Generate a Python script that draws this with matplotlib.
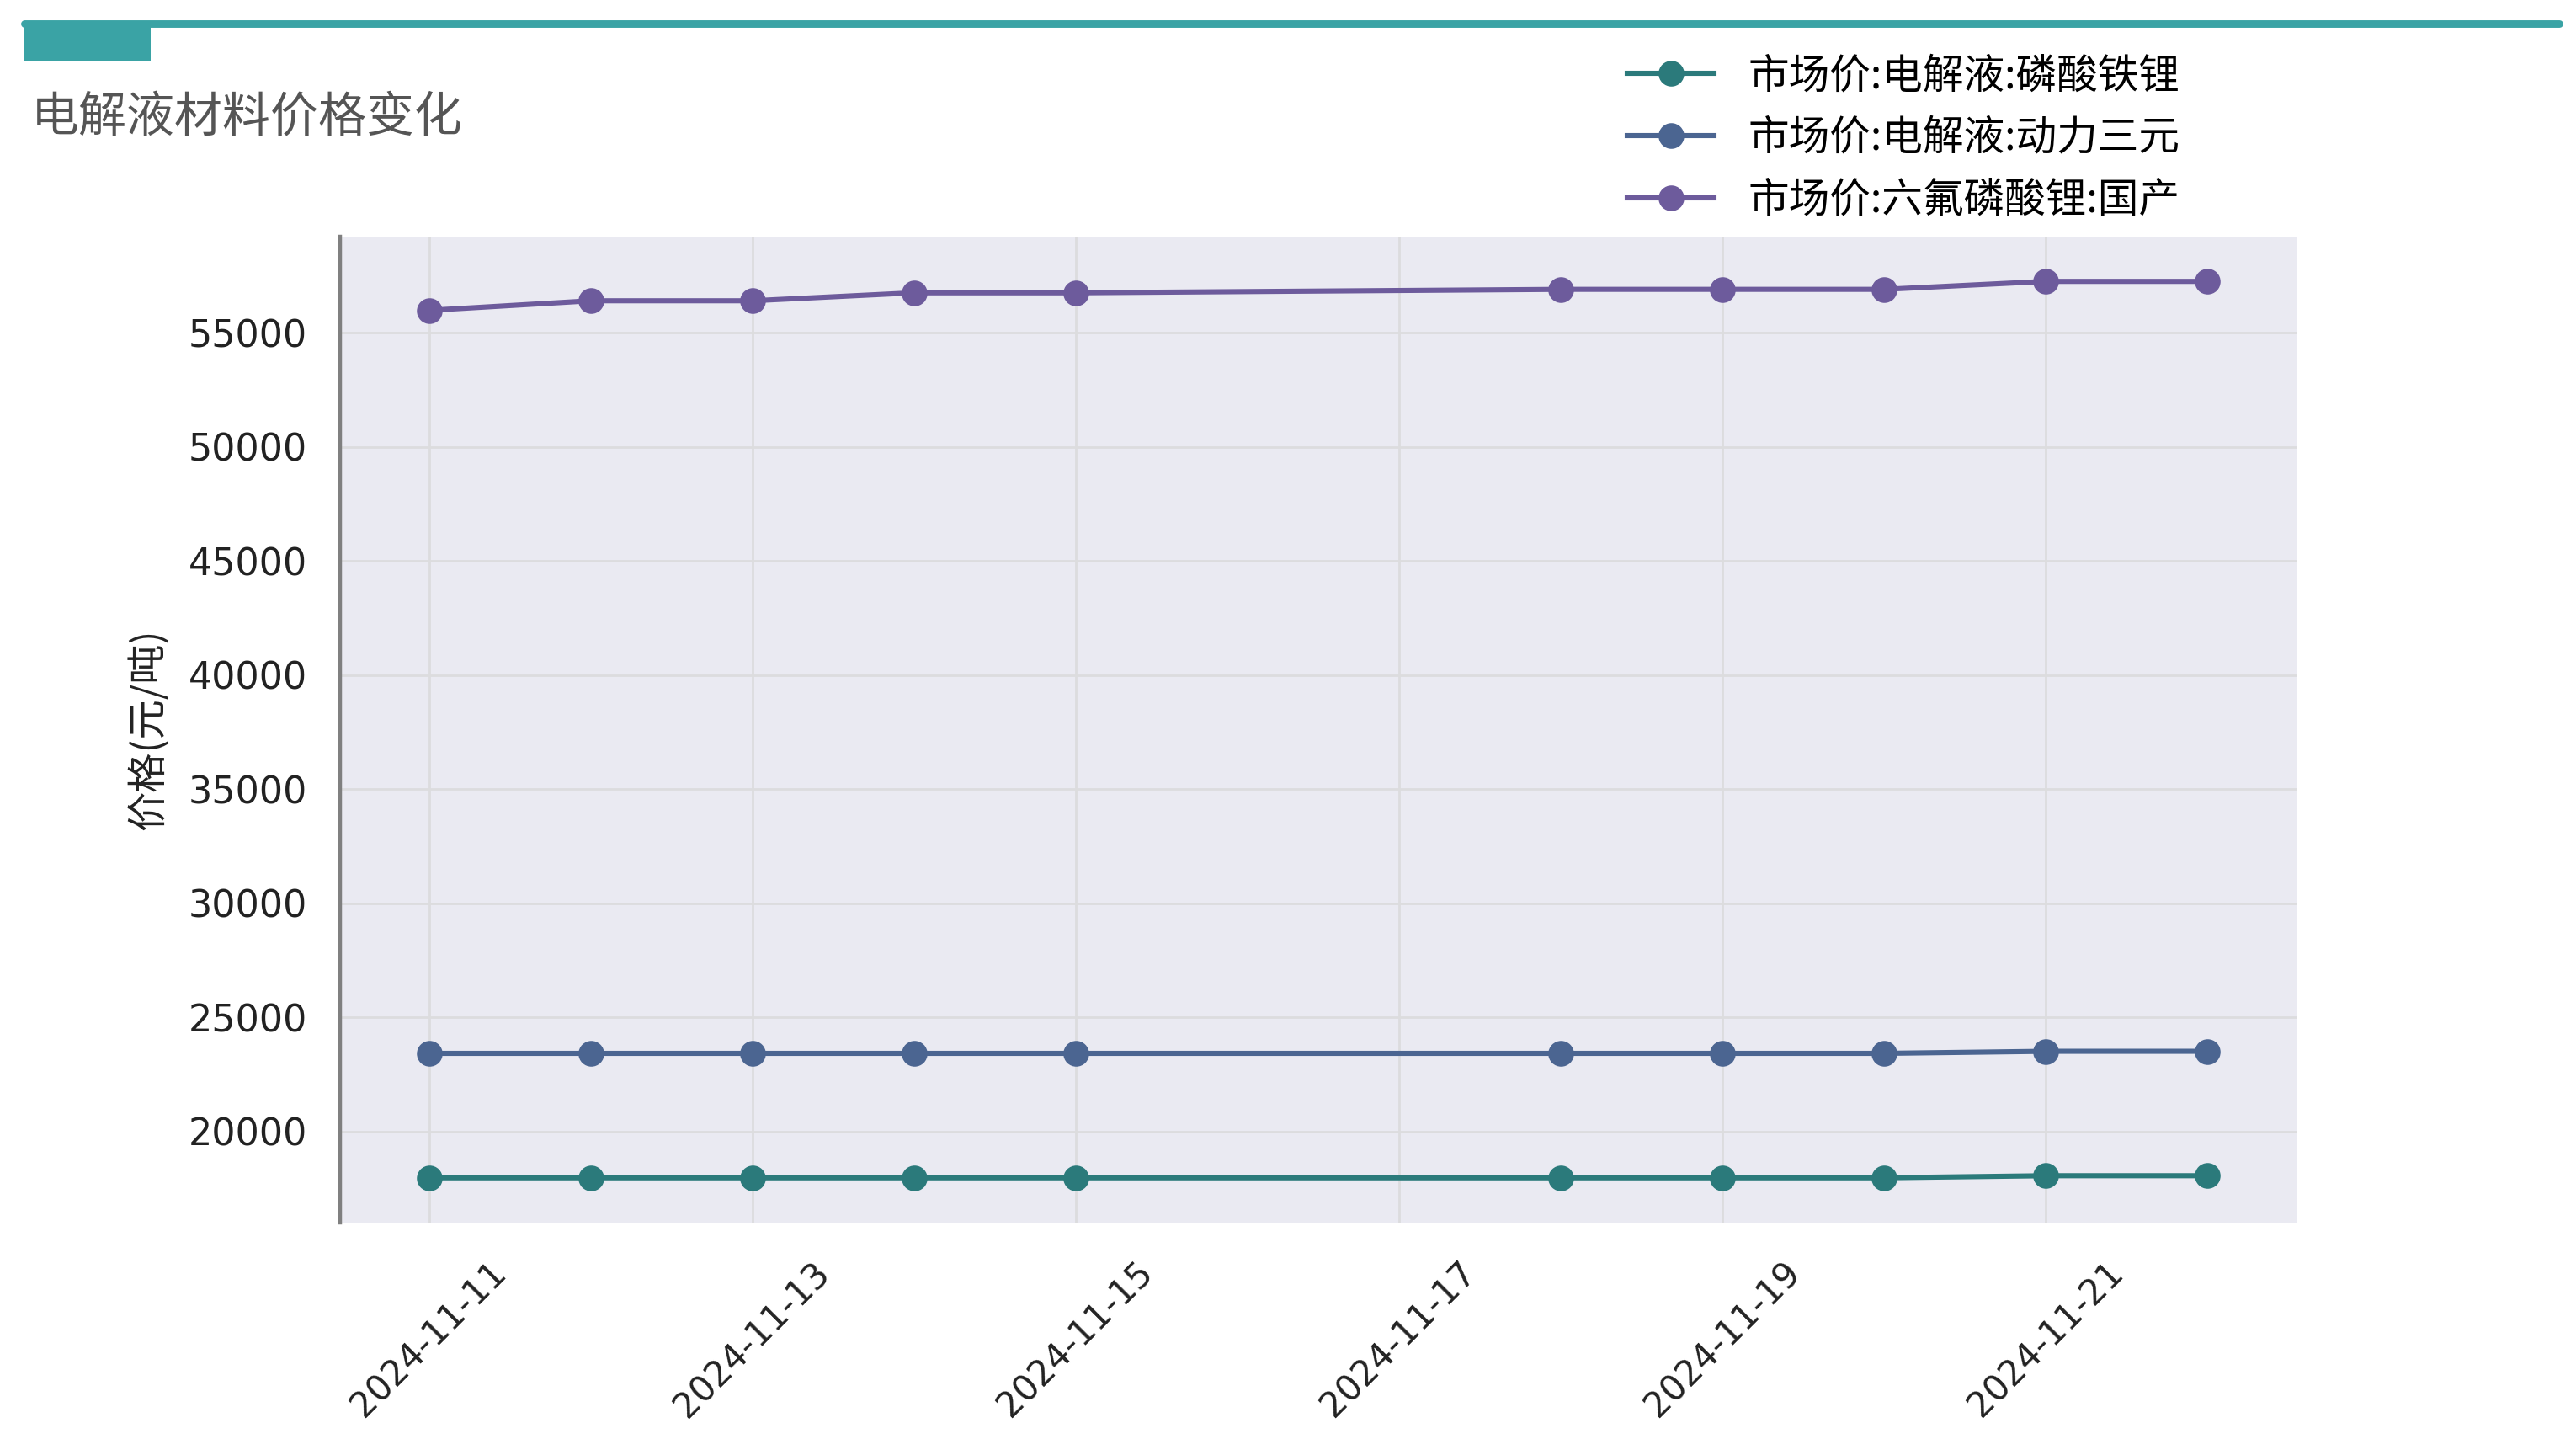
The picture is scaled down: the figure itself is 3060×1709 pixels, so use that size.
import matplotlib
matplotlib.use("Agg")
import matplotlib.pyplot as plt
import matplotlib.dates as mdates
from matplotlib.patches import Rectangle
from matplotlib.lines import Line2D
import pandas as pd

plt.rcParams['font.family'] = ['Noto Sans CJK SC', 'DejaVu Sans']

dates = ["2024-11-11", "2024-11-12", "2024-11-13", "2024-11-14", "2024-11-15",
         "2024-11-18", "2024-11-19", "2024-11-20", "2024-11-21", "2024-11-22"]
lfp_electrolyte = [17980, 17980, 17980, 17980, 17980, 17980, 17980, 17980, 18070, 18070]
ncm_electrolyte = [23430, 23430, 23430, 23430, 23430, 23430, 23430, 23430, 23520, 23520]
lipf6_domestic = [55980, 56400, 56400, 56750, 56750, 56900, 56900, 56900, 57250, 57250]
series_names = ["市场价:电解液:磷酸铁锂", "市场价:电解液:动力三元", "市场价:六氟磷酸锂:国产"]
series_colors = ["#2B7A7B", "#4B6591", "#6D5B9C"]

x = pd.to_datetime(dates)

fig = plt.figure(figsize=(15.3, 8.545), dpi=200)
ax = fig.add_axes([0.132, 0.1504, 0.7595, 0.6852])
ax.set_facecolor("#EAEAF2")

handles = []
for vals, name, col in zip([lfp_electrolyte, ncm_electrolyte, lipf6_domestic], series_names, series_colors):
    h, = ax.plot(x, vals, color=col, lw=2.2, marker='o', markersize=10, label=name)
    handles.append(h)

ax.xaxis.set_major_locator(mdates.DayLocator(bymonthday=[11, 13, 15, 17, 19, 21]))
ax.xaxis.set_major_formatter(mdates.DateFormatter("%Y-%m-%d"))
ax.set_yticks([20000, 25000, 30000, 35000, 40000, 45000, 50000, 55000])
ax.grid(True, color="#DCDCDE", lw=1.0)
ax.set_axisbelow(True)
for s in ["top", "right", "bottom"]:
    ax.spines[s].set_visible(False)
ax.spines["left"].set_color("#808080")
ax.spines["left"].set_linewidth(1.6)
ax.tick_params(axis='both', length=0, colors="#222222")
ax.tick_params(axis='y', labelsize=16, pad=14)
ax.tick_params(axis='x', labelsize=15, pad=14)
for lab in ax.get_yticklabels():
    lab.set_family('DejaVu Sans')
for lab in ax.get_xticklabels():
    lab.set_family('DejaVu Sans')
    lab.set_rotation(45)
ax.set_ylabel("价格(元/吨)", fontsize=17, color="#222222", labelpad=8)

# header decoration
fig.add_artist(Line2D([0.0095, 0.9935], [0.9835, 0.9835], color="#3AA3A5", lw=3.2,
                      solid_capstyle='round', transform=fig.transFigure))
fig.add_artist(Rectangle((0.0095, 0.957), 0.049, 0.027, color="#3AA3A5",
                         transform=fig.transFigure, lw=0))
fig.text(0.012, 0.918, "电解液材料价格变化", fontsize=20.5, color="#555555", va='center', ha='left')

fig.legend(handles=handles, loc='upper left', bbox_to_anchor=(0.6255, 0.973),
           frameon=False, fontsize=17.5, handlelength=2.1, handletextpad=0.85,
           labelspacing=0.5, borderaxespad=0)

fig.savefig("out.png", dpi=200)
